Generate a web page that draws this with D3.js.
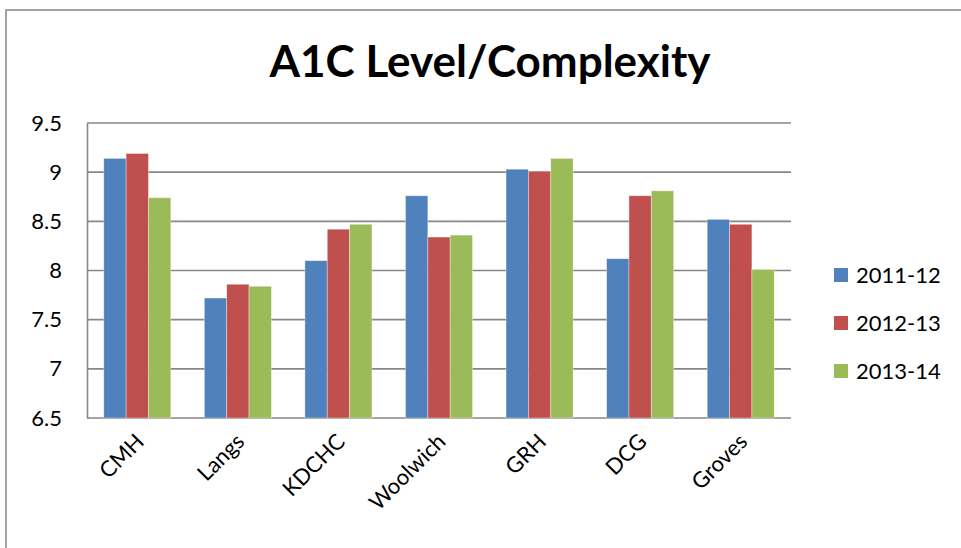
<!DOCTYPE html>
<html>
<head>
<meta charset="utf-8">
<script src="https://d3js.org/d3.v7.min.js"></script>
<style>
    body { margin: 0; background: #ffffff; }
    svg { display: block; }
</style>
</head>
<body>
<svg id="drawing_region"></svg>
<script>
const categories = ["CMH", "Langs", "KDCHC", "Woolwich", "GRH", "DCG", "Groves"];
const seriesNames = ["2011-12", "2012-13", "2013-14"];
const values2011 = [9.14, 7.72, 8.10, 8.76, 9.03, 8.12, 8.52];
const values2012 = [9.19, 7.86, 8.42, 8.34, 9.01, 8.76, 8.47];
const values2013 = [8.74, 7.84, 8.47, 8.36, 9.14, 8.81, 8.01];
const yTicks = [6.5, 7, 7.5, 8, 8.5, 9, 9.5];
const colors = ["#4F81BD", "#C0504D", "#9BBB59"];

var config = {
    parent: '#drawing_region',
    width: 961,
    height: 548,
    margin: { top: 123, right: 170, bottom: 130, left: 87 }
};

class BarPlot {
    constructor(config) {
        this.config = config;
        this.series = [values2011, values2012, values2013];
        this.init();
    }

    init() {
        let self = this;
        self.svg = d3.select(self.config.parent)
            .attr('width', self.config.width)
            .attr('height', self.config.height);

        self.inner_width = self.config.width - self.config.margin.left - self.config.margin.right;
        self.inner_height = self.config.height - self.config.margin.top - self.config.margin.bottom;

        self.chart = self.svg.append('g')
            .attr('transform', `translate(${self.config.margin.left}, ${self.config.margin.top})`);

        self.xscale = d3.scaleBand()
            .domain(categories)
            .range([0, self.inner_width])
            .paddingInner(1 / 3)
            .paddingOuter(1 / 6);

        self.xsub = d3.scaleBand()
            .domain(seriesNames)
            .range([0, self.xscale.bandwidth()]);

        self.yscale = d3.scaleLinear()
            .domain([6.5, 9.5])
            .range([self.inner_height, 0]);
    }

    render() {
        let self = this;
        const font = 'Lato, "Open Sans", sans-serif';

        // outer chart frame
        self.svg.append('rect')
            .attr('x', 6).attr('y', 10)
            .attr('width', 1000).attr('height', 600)
            .attr('fill', 'none')
            .attr('stroke', '#878787')
            .attr('stroke-width', 1.5);

        self.svg.append('text')
            .attr('x', 490).attr('y', 77)
            .attr('text-anchor', 'middle')
            .style('font-family', font)
            .style('font-weight', 'bold')
            .style('font-size', '44px')
            .text('A1C Level/Complexity');

        // gridlines
        self.chart.selectAll('.grid')
            .data(yTicks)
            .enter()
            .append('line')
            .attr('x1', 0).attr('x2', self.inner_width)
            .attr('y1', d => self.yscale(d)).attr('y2', d => self.yscale(d))
            .attr('stroke', '#878787')
            .attr('stroke-width', 1.6);

        const yaxis = d3.axisLeft(self.yscale)
            .tickValues(yTicks)
            .tickSize(0)
            .tickPadding(25)
            .tickFormat(d => String(d));

        const ya = self.chart.append('g').call(yaxis);
        ya.select('.domain').attr('stroke', '#878787').attr('stroke-width', 1.6);
        ya.selectAll('text')
            .style('font-family', font)
            .style('font-size', '22px')
            .attr('fill', '#000');

        // bars
        self.series.forEach((vals, si) => {
            self.chart.selectAll('.bar' + si)
                .data(vals)
                .enter()
                .append('rect')
                .attr('x', (d, i) => self.xscale(categories[i]) + self.xsub(seriesNames[si]))
                .attr('y', d => self.yscale(d))
                .attr('width', self.xsub.bandwidth())
                .attr('height', d => self.inner_height - self.yscale(d))
                .attr('fill', colors[si])
                .attr('stroke', 'rgba(255,255,255,0.45)')
                .attr('stroke-width', 0.8);
        });

        // x labels
        self.chart.selectAll('.xlabel')
            .data(categories)
            .enter()
            .append('text')
            .attr('transform', d => `translate(${self.xscale(d) + self.xscale.bandwidth() / 2 + 8}, ${self.inner_height + 25}) rotate(-45)`)
            .attr('text-anchor', 'end')
            .style('font-family', font)
            .style('font-size', '22px')
            .text(d => d);

        // legend
        const legend = self.svg.append('g')
            .attr('transform', 'translate(834, 268)');
        seriesNames.forEach((s, i) => {
            legend.append('rect')
                .attr('x', 0).attr('y', i * 48)
                .attr('width', 14).attr('height', 14)
                .attr('fill', colors[i]);
            legend.append('text')
                .attr('x', 22).attr('y', i * 48 + 15)
                .style('font-family', font)
                .style('font-size', '22px')
                .text(s);
        });
    }
}

const bar_plot = new BarPlot(config);
bar_plot.render();
</script>
</body>
</html>
